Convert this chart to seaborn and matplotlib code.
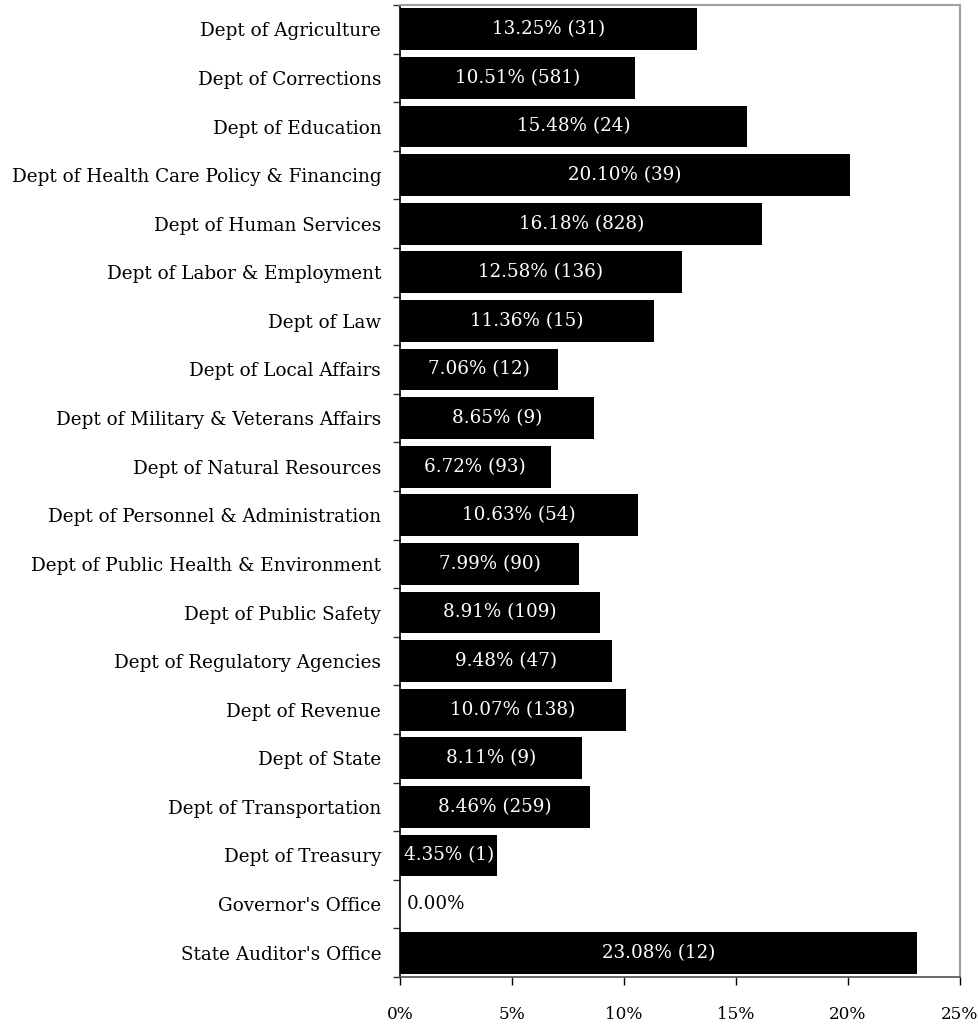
import matplotlib
matplotlib.use("Agg")
import matplotlib.pyplot as plt
import seaborn as sns
import pandas as pd
import numpy as np
from matplotlib.ticker import FixedLocator, FuncFormatter

departments = [
    "Dept of Agriculture",
    "Dept of Corrections",
    "Dept of Education",
    "Dept of Health Care Policy & Financing",
    "Dept of Human Services",
    "Dept of Labor & Employment",
    "Dept of Law",
    "Dept of Local Affairs",
    "Dept of Military & Veterans Affairs",
    "Dept of Natural Resources",
    "Dept of Personnel & Administration",
    "Dept of Public Health & Environment",
    "Dept of Public Safety",
    "Dept of Regulatory Agencies",
    "Dept of Revenue",
    "Dept of State",
    "Dept of Transportation",
    "Dept of Treasury",
    "Governor's Office",
    "State Auditor's Office",
]
percentages = [13.25, 10.51, 15.48, 20.10, 16.18, 12.58, 11.36, 7.06, 8.65, 6.72,
               10.63, 7.99, 8.91, 9.48, 10.07, 8.11, 8.46, 4.35, 0.00, 23.08]
counts = [31, 581, 24, 39, 828, 136, 15, 12, 9, 93,
          54, 90, 109, 47, 138, 9, 259, 1, 0, 12]
x_ticks = [0, 5, 10, 15, 20, 25]

df = pd.DataFrame({"department": departments, "pct": percentages, "count": counts})

sns.set_style("white")
plt.rcParams["font.family"] = ["DejaVu Serif"]
plt.rcParams["text.color"] = "black"
plt.rcParams["xtick.color"] = "black"
plt.rcParams["ytick.color"] = "black"
plt.rcParams["xtick.labelcolor"] = "black"
plt.rcParams["ytick.labelcolor"] = "black"
FS = 13.2

fig = plt.figure(figsize=(9.79, 10.26), dpi=100)
ax = fig.add_axes([400 / 979, 1 - 977 / 1026, 560 / 979, 972 / 1026])

sns.barplot(data=df, x="pct", y="department", orient="h", color="black",
            saturation=1, width=0.86, ax=ax, edgecolor="none")

ax.set_xlim(0, 25)
ax.set_ylim(len(departments) - 0.5, -0.5)
ax.set_xlabel("")
ax.set_ylabel("")

ax.set_xticks(x_ticks)
ax.xaxis.set_major_formatter(FuncFormatter(lambda v, _: f"{v:.0f}%"))
ax.tick_params(axis="x", direction="out", length=6, width=1, color="black",
               labelsize=12.2, pad=15, bottom=True)

ax.set_yticks(np.arange(len(departments)))
ax.set_yticklabels(departments)
ax.tick_params(axis="y", which="major", length=0, pad=13.5, labelsize=FS)
ax.yaxis.set_minor_locator(FixedLocator(np.arange(-0.5, len(departments), 1.0)))
ax.tick_params(axis="y", which="minor", direction="out", length=5, width=1,
               color="#303030", left=True)

for side in ("top", "right"):
    ax.spines[side].set_color("#a0a0a0")
    ax.spines[side].set_linewidth(1.5)
ax.spines["left"].set_color("black")
ax.spines["bottom"].set_color("#505050")
for side in ("left", "bottom"):
    ax.spines[side].set_linewidth(1.2)

for i, (p, c) in enumerate(zip(percentages, counts)):
    if c > 0:
        ax.text(p / 2, i, f"{p:.2f}% ({c})", ha="center", va="center",
                color="white", fontsize=FS)
    else:
        ax.text(0.3, i, f"{p:.2f}%", ha="left", va="center",
                color="black", fontsize=FS)

fig.savefig("out.png", dpi=100)
